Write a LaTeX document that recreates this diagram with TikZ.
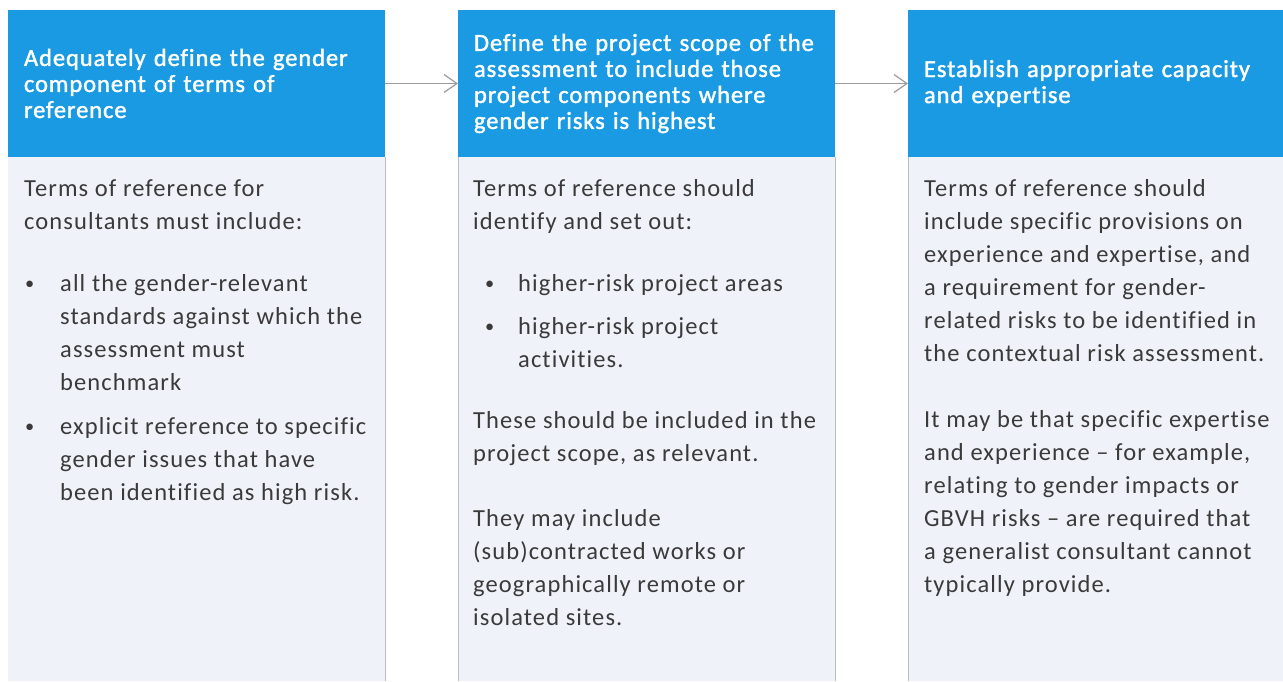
\documentclass[tikz,border=0pt]{standalone}
\usepackage{fontspec}
\setmainfont{Carlito}[LetterSpace=4.5, Ligatures=NoCommon]
\newfontfamily\headfont{Carlito}[LetterSpace=3.8, Ligatures=NoCommon, FakeBold=1.6]
\usetikzlibrary{arrows.meta,positioning}

\definecolor{headblue}{HTML}{1A9AE2}
\definecolor{bodyfill}{HTML}{EFF2F8}
\definecolor{bodyline}{HTML}{B9BDC3}
\definecolor{bodyink}{HTML}{3A3A3A}
\definecolor{flowgray}{HTML}{9C9C9C}

% bullet mark: #1 = indent of the dot, #2 = indent of the text
\newcommand{\itemmark}[2]{\makebox[#2][l]{\hspace*{#1}\raisebox{1.5pt}{\scalebox{0.75}{\textbullet}}}}

\tikzset{
	headbox/.style={fill=headblue, text=white, minimum height=147pt, inner xsep=16pt, inner ysep=0pt, outer sep=0pt, align=left, font=\headfont\fontsize{24.5}{26}\selectfont},
	bodybox/.style={fill=bodyfill, minimum width=#1, minimum height=524pt, inner sep=0pt, outer sep=0pt},
	bodytxt/.style={anchor=north west, inner sep=0pt, align=left, text=bodyink, font=\fontsize{24.5}{33}\selectfont},
	sideline/.style={draw=bodyline, line width=1pt},
	flow/.style={draw=flowgray, line width=1.2pt, -{Straight Barb[length=13pt,width=18pt,line width=1.2pt]}}
}

\begin{document}
\begin{tikzpicture}[x=1pt, y=-1pt]
	\useasboundingbox (0,0) rectangle (1283,681);
	
	%headers
	\node[headbox, text width=345pt, anchor=north west] (h1) at (8,10) {Adequately define the gender\\component of terms of\\reference};
	\node[headbox, text width=345pt, right=73pt of h1] (h2) {Define the project scope of the\\assessment to include those\\project components where\\gender risks is highest};
	\node[headbox, text width=343pt, right=73pt of h2] (h3) {Establish appropriate capacity\\and expertise};
	
	%bodies
	\node[bodybox=377pt, anchor=north] (b1) at (h1.south) {};
	\node[bodybox=377pt, anchor=north] (b2) at (h2.south) {};
	\node[bodybox=375pt, anchor=north] (b3) at (h3.south) {};
	\draw[sideline] (b1.north east) -- (b1.south east);
	\draw[sideline] (b2.north west) -- (b2.south west);
	\draw[sideline] (b2.north east) -- (b2.south east);
	\draw[sideline] (b3.north west) -- (b3.south west);
	
	\draw[flow] (h1) -- (h2);
	\draw[flow] (h2) -- (h3);
	
	%body texts
	\node[bodytxt] (t1) at (24,179) {Terms of reference for\\
		consultants must include:\\[29pt]
		\itemmark{1pt}{36pt}all the gender-relevant\\
		\hspace*{36pt}standards against which the\\
		\hspace*{36pt}assessment must\\
		\hspace*{36pt}benchmark\\[11pt]
		\itemmark{1pt}{36pt}explicit reference to specific\\
		\hspace*{36pt}gender issues that have\\
		\hspace*{36pt}been identified as high risk.};
	\node[bodytxt] (t2) at (473,179) {Terms of reference should\\
		identify and set out:\\[29pt]
		\itemmark{12pt}{45pt}higher-risk project areas\\[10pt]
		\itemmark{12pt}{45pt}higher-risk project\\
		\hspace*{45pt}activities.\\[28pt]
		These should be included in the\\
		project scope, as relevant.\\[32pt]
		They may include\\
		(sub)contracted works or\\
		geographically remote or\\
		isolated sites.};
	\node[bodytxt] (t3) at (924,179) {Terms of reference should\\
		include specific provisions on\\
		experience and expertise, and\\
		a requirement for gender-\\
		related risks to be identified in\\
		the contextual risk assessment.\\[33pt]
		It may be that specific expertise\\
		and experience -- for example,\\
		relating to gender impacts or\\
		GBVH risks -- are required that\\
		a generalist consultant cannot\\
		typically provide.};
\end{tikzpicture}
\end{document}
